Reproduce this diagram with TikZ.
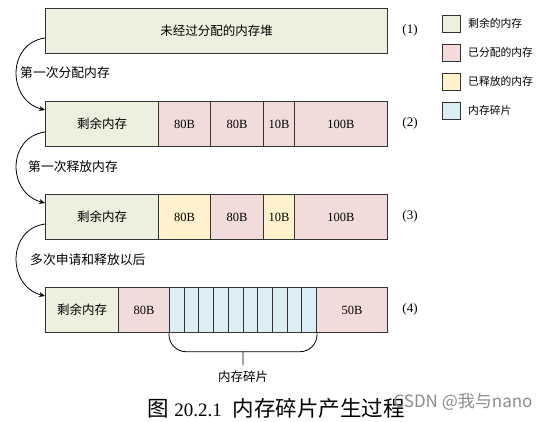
\documentclass[tikz,border=0pt]{standalone}
\usepackage{fontspec}
\setmainfont{Liberation Serif}
\newfontfamily\cjk{Noto Sans CJK SC}
\usetikzlibrary{arrows.meta,calc}
\definecolor{cgreen}{HTML}{EBF1DE}
\definecolor{cpink}{HTML}{F2DCDB}
\definecolor{cyellow}{HTML}{FFF2CC}
\definecolor{cblue}{HTML}{DAEEF3}
\definecolor{linec}{HTML}{333333}
\tikzset{
  cell/.style={draw=linec, line width=1pt, minimum height=45pt, inner sep=0pt, anchor=north west, font=\fontsize{12.5}{14}\selectfont},
  frag/.style={cell, fill=cblue, minimum width=14.7pt},
  legbox/.style={draw=linec, line width=1pt, minimum width=18pt, minimum height=17pt, inner sep=0pt, anchor=north west},
  legtxt/.style={anchor=west, inner sep=0pt, font=\fontsize{10.8}{12}\selectfont\cjk},
  steplbl/.style={anchor=west, inner sep=0pt, font=\fontsize{12.8}{14}\selectfont\cjk},
  numlbl/.style={inner sep=0pt, font=\fontsize{13}{14}\selectfont},
  arr/.style={draw=black, line width=0.8pt, -{Stealth[length=6pt,width=5pt]}},
}
\begin{document}
\begin{tikzpicture}[x=1pt,y=-1pt]
\useasboundingbox (0,0) rectangle (553,421);
% row 1
\node[cell, fill=cgreen, minimum width=342pt] (r1) at (45,8) {\cjk 未经过分配的内存堆};
% row 2
\node[cell, fill=cgreen, minimum width=113pt] (r2a) at (45,101) {\cjk 剩余内存};
\node[cell, fill=cpink, minimum width=52pt] (r2b) at (158,101) {80B};
\node[cell, fill=cpink, minimum width=53pt] (r2c) at (210,101) {80B};
\node[cell, fill=cpink, minimum width=31pt] (r2d) at (263,101) {10B};
\node[cell, fill=cpink, minimum width=93pt] (r2e) at (294,101) {100B};
% row 3
\node[cell, fill=cgreen, minimum width=113pt] (r3a) at (45,194) {\cjk 剩余内存};
\node[cell, fill=cyellow, minimum width=52pt] (r3b) at (158,194) {80B};
\node[cell, fill=cpink, minimum width=53pt] (r3c) at (210,194) {80B};
\node[cell, fill=cyellow, minimum width=31pt] (r3d) at (263,194) {10B};
\node[cell, fill=cpink, minimum width=93pt] (r3e) at (294,194) {100B};
% row 4
\node[cell, fill=cgreen, minimum width=73pt] (r4a) at (45,287) {\cjk 剩余内存};
\node[cell, fill=cpink, minimum width=51pt] (r4b) at (118,287) {80B};
\foreach \i in {1,...,10} {
  \node[frag] (f\i) at ({169+(\i-1)*14.7},287) {};
}
\node[cell, fill=cpink, minimum width=71pt] (r4c) at (316,287) {50B};
% row labels
\node[numlbl] (n1) at (410,30.5) {(1)};
\node[numlbl] (n2) at (410,123.5) {(2)};
\node[numlbl] (n3) at (410,216.5) {(3)};
\node[numlbl] (n4) at (410,309.5) {(4)};
% legend
\node[legbox, fill=cgreen] (l1) at (442,15) {};
\node[legbox, fill=cpink] (l2) at (442,44) {};
\node[legbox, fill=cyellow] (l3) at (442,73) {};
\node[legbox, fill=cblue] (l4) at (442,102) {};
\node[legtxt] (lt1) at (468,23.5) {剩余的内存};
\node[legtxt] (lt2) at (468,52.5) {已分配的内存};
\node[legtxt] (lt3) at (468,81.5) {已释放的内存};
\node[legtxt] (lt4) at (468,110.5) {内存碎片};
% step labels
\node[steplbl] (s1l) at (20,72.7) {第一次分配内存};
\node[steplbl] (s2l) at (28,166.7) {第一次释放内存};
\node[steplbl] (s3l) at (30,259.3) {多次申请和释放以后};
% arrows
\coordinate (a1) at ($(r1.west)+(0,7)$);
\coordinate (b1) at ($(r2a.north west)+(0,9)$);
\coordinate (a2) at ($(r2a.west)+(0,8)$);
\coordinate (b2) at ($(r3a.north west)+(0,9)$);
\coordinate (a3) at ($(r3a.west)+(0,7)$);
\coordinate (b3) at ($(r4a.north west)+(0,9)$);
\draw[arr] (a1) .. controls +(-38,5) and +(-38,-10) .. (b1);
\draw[arr] (a2) .. controls +(-38,5) and +(-38,-10) .. (b2);
\draw[arr] (a3) .. controls +(-38,5) and +(-38,-10) .. (b3);
% brace
\coordinate (bm) at ($(f1.south west)!0.5!(f10.south east)+(0,18.7)$);
\draw[line width=0.8pt, rounded corners=17pt] (f1.south west) -- ++(0,18.7) -| (f10.south east);
\node[inner sep=0pt, font=\fontsize{12.5}{14}\selectfont\cjk] (fl) at (243,377) {内存碎片};
\draw[line width=0.8pt] (bm) -- (243,365);
% caption
\node[inner sep=0pt] (cap) at (276,408) {\fontsize{21.5}{24}\selectfont{\cjk 图} {\fontsize{19}{24}\selectfont 20.2.1} \ {\cjk 内存碎片产生过程}};
\node[inner sep=0pt, text=black!45, font=\fontsize{17}{20}\selectfont\cjk] (wm) at (463,402) {CSDN @我与nano};
\end{tikzpicture}
\end{document}
